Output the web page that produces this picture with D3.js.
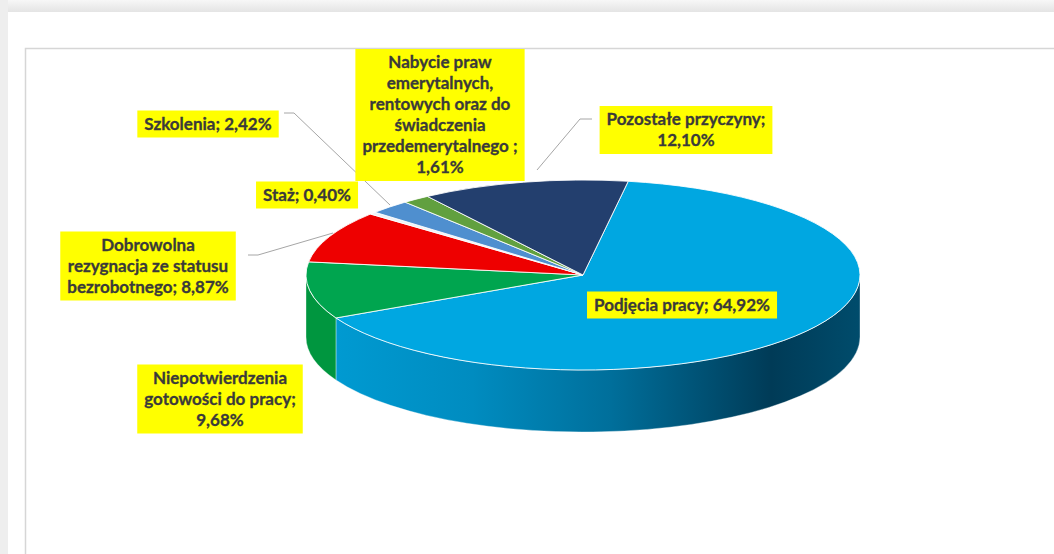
<!DOCTYPE html>
<html>
<head>
<meta charset="utf-8">
<script src="https://cdn.jsdelivr.net/npm/d3@7"></script>
<style>
  html, body { margin: 0; padding: 0; background: #fff; }
  svg { display: block; }
</style>
</head>
<body>
<div class="pie3d"></div>
<script>
// dane
const categories = ["Podjęcia pracy", "Niepotwierdzenia gotowości do pracy", "Dobrowolna rezygnacja ze statusu bezrobotnego",
    "Staż", "Szkolenia", "Nabycie praw emerytalnych, rentowych oraz do świadczenia przedemerytalnego", "Pozostałe przyczyny"]
const shares = [64.92, 9.68, 8.87, 0.40, 2.42, 1.61, 12.10]
const labelLines = [
    ["Podjęcia pracy; {v}"],
    ["Niepotwierdzenia", "gotowości do pracy;", "{v}"],
    ["Dobrowolna", "rezygnacja ze statusu", "bezrobotnego; {v}"],
    ["Staż; {v}"],
    ["Szkolenia; {v}"],
    ["Nabycie praw", "emerytalnych,", "rentowych oraz do", "świadczenia", "przedemerytalnego ;", "{v}"],
    ["Pozostałe przyczyny;", "{v}"]
]

let width = 1054, height = 554
let cx = 583, cy = 275, rx = 277, ry = 95, depth = 62
let startAngle = 9.4 * Math.PI / 180

let topColor = ["#00a7e1", "#00a54f", "#ee0000", "#eef2f7", "#4f8fcf", "#61a03f", "#233f6e"]
let sideColor = ["url(#sideGrad)", "#00963f", "#c80000", "#c5d0dc", "#3f78b0", "#4f8832", "#1a2f54"]

// pozycje etykiet (środek ramki)
let labelPos = [[682, 305], [220, 399], [148, 266], [307, 195], [208, 124], [440, 115], [686, 130]]
let leaders = {
    2: [[248, 255], [258, 255], [333, 233]],
    4: [[284, 113], [294, 113], [390, 205]],
    6: [[592, 119], [580, 119], [537, 170]]
}

let svg = d3.select(".pie3d")
    .append("svg")
    .attr("width", width)
    .attr("height", height)

let defs = svg.append("defs")
let topGrad = defs.append("linearGradient").attr("id", "topBand").attr("x1", 0).attr("y1", 0).attr("x2", 0).attr("y2", 1)
topGrad.append("stop").attr("offset", 0).attr("stop-color", "#f7f7f7")
topGrad.append("stop").attr("offset", 1).attr("stop-color", "#e4e4e4")
let sideGrad = defs.append("linearGradient").attr("id", "sideGrad")
    .attr("gradientUnits", "userSpaceOnUse")
    .attr("x1", cx - rx).attr("y1", 0).attr("x2", cx + rx).attr("y2", 0)
let sideStops = [[0, "#009dd5"], [0.3, "#008cc0"], [0.55, "#006f9b"], [0.84, "#003b57"], [1, "#004c6c"]]
sideStops.forEach(s => sideGrad.append("stop").attr("offset", s[0]).attr("stop-color", s[1]))

// ramka strony
svg.append("rect").attr("x", 0).attr("y", 0).attr("width", width).attr("height", 12).attr("fill", "url(#topBand)")
svg.append("rect").attr("x", 0).attr("y", 0).attr("width", 8).attr("height", height).attr("fill", "#eeeeee")
svg.append("path")
    .attr("d", `M25.5,${height} V48.5 H${width}`)
    .attr("fill", "none")
    .attr("stroke", "#d6d6d6")
    .attr("stroke-width", 1.5)

let pie = d3.pie().sort(null).value(d => d)
    .startAngle(startAngle).endAngle(startAngle + 2 * Math.PI)
let arcs = pie(shares)

let pt = (a, dy = 0) => [cx + rx * Math.sin(a), cy - ry * Math.cos(a) + dy]

// boki (widoczna przednia połowa)
let sides = svg.append("g")
arcs.forEach((d, i) => {
    [0, 2 * Math.PI].forEach(shift => {
        let a0 = Math.max(d.startAngle, Math.PI / 2 + shift),
            a1 = Math.min(d.endAngle, 3 * Math.PI / 2 + shift)
        if (a1 <= a0) return
        let p0 = pt(a0), p1 = pt(a1), q0 = pt(a0, depth), q1 = pt(a1, depth)
        let large = (a1 - a0) > Math.PI ? 1 : 0
        sides.append("path")
            .attr("d", `M${p0} A${rx},${ry} 0 ${large} 1 ${p1} L${q1} A${rx},${ry} 0 ${large} 0 ${q0} Z`)
            .attr("fill", sideColor[i])
            .attr("stroke", "#ffffff")
            .attr("stroke-opacity", 0.5)
            .attr("stroke-width", 0.7)
    })
})

// górna powierzchnia
svg.append("g")
    .selectAll("path")
    .data(arcs)
    .enter()
    .append("path")
    .attr("d", d => {
        let p0 = pt(d.startAngle), p1 = pt(d.endAngle)
        let large = (d.endAngle - d.startAngle) > Math.PI ? 1 : 0
        return `M${cx},${cy} L${p0} A${rx},${ry} 0 ${large} 1 ${p1} Z`
    })
    .attr("fill", (d, i) => topColor[i])
    .attr("stroke", "#ffffff")
    .attr("stroke-opacity", 0.85)
    .attr("stroke-width", 1)
    .attr("stroke-linejoin", "round")

// linie odniesienia
let line = d3.line()
Object.keys(leaders).forEach(k => {
    svg.append("path")
        .attr("d", line(leaders[k]))
        .attr("fill", "none")
        .attr("stroke", "#a6a6a6")
        .attr("stroke-width", 1)
})

// etykiety
let fmt = v => d3.format(".2f")(v).replace(".", ",") + "%"
let lineH = 21
let labels = svg.append("g")
arcs.forEach((d, i) => {
    let lines = labelLines[i].map(t => t.replace("{v}", fmt(shares[i])))
    let g = labels.append("g")
    let box = g.append("rect").attr("fill", "#ffff00")
    let text = g.append("text")
        .attr("font-family", "Lato, 'Open Sans', sans-serif")
        .attr("font-weight", "bold")
        .attr("font-size", 17)
        .attr("fill", "#3a3a3a")
        .attr("stroke", "#3a3a3a")
        .attr("stroke-width", 0.3)
        .attr("text-anchor", "middle")
    let y0 = labelPos[i][1] - (lines.length - 1) * lineH / 2
    lines.forEach((t, j) => {
        text.append("tspan")
            .attr("x", labelPos[i][0])
            .attr("y", y0 + j * lineH)
            .attr("dy", "0.35em")
            .text(t)
    })
    let bb = text.node().getBBox()
    let h = lines.length * lineH + 6
    box.attr("x", bb.x - 7).attr("width", bb.width + 14)
        .attr("y", labelPos[i][1] - h / 2).attr("height", h)
})
</script>
</body>
</html>
